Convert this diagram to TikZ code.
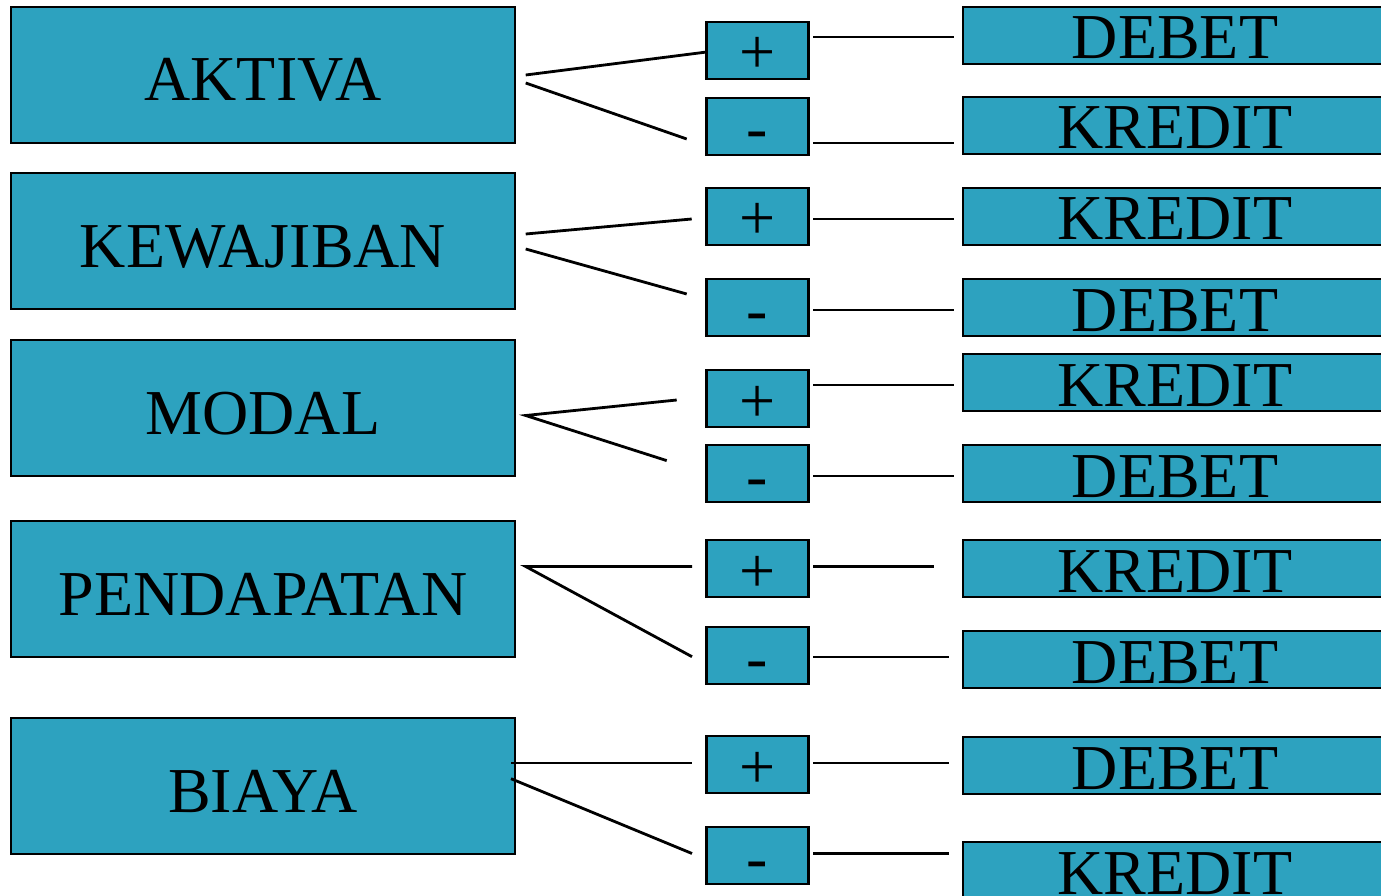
\documentclass[tikz,border=0pt]{standalone}
\usepackage{fontspec}
\setmainfont{Liberation Serif}
\definecolor{boxblue}{RGB}{45,162,191}
\tikzset{
  base/.style={draw=black, fill=boxblue, line width=2.8pt, inner sep=0pt, outer sep=0pt,
    anchor=north west, font=\fontsize{64}{64}\selectfont},
  lbox/.style={base, minimum width=504pt, text height=94pt, text depth=42pt},
  mbox/.style={base, minimum width=101.6pt, text height=52pt, text depth=5pt},
  rbox/.style={base, minimum width=424pt, text height=52pt, text depth=5pt},
  link/.style={line width=2.8pt, draw=black}
}
\begin{document}
\begin{tikzpicture}[x=1pt,y=-1pt]
\useasboundingbox (0,0) rectangle (1381,896);
% left boxes
\node[lbox] (aktiva) at (11,7) {AKTIVA};
\node[lbox] (kewajiban) at (11,173) {KEWAJIBAN};
\node[lbox] (modal) at (11,340) {MODAL};
\node[lbox] (pendapatan) at (11,521) {PENDAPATAN};
\node[lbox] (biaya) at (11,718) {BIAYA};
% middle boxes
\node[mbox] (ap) at (706.7,22) {+};
\node[mbox] (am) at (706.7,98) {-};
\node[mbox] (kp) at (706.7,188) {+};
\node[mbox] (km) at (706.7,279) {-};
\node[mbox] (mp) at (706.7,370) {+};
\node[mbox] (mm) at (706.7,445) {-};
\node[mbox] (pp) at (706.7,540) {+};
\node[mbox] (pm) at (706.7,627) {-};
\node[mbox] (bp) at (706.7,736) {+};
\node[mbox] (bm) at (706.7,827) {-};
% right boxes
\node[rbox] (r1) at (963,7) {DEBET};
\node[rbox] (r2) at (963,97) {KREDIT};
\node[rbox] (r3) at (963,188) {KREDIT};
\node[rbox] (r4) at (963,279) {DEBET};
\node[rbox] (r5) at (963,354) {KREDIT};
\node[rbox] (r6) at (963,445) {DEBET};
\node[rbox] (r7) at (963,540) {KREDIT};
\node[rbox] (r8) at (963,631) {DEBET};
\node[rbox] (r9) at (963,737) {DEBET};
\node[rbox] (r10) at (963,842) {KREDIT};
% connector end points
\coordinate (a1) at (525.7,75);   \coordinate (a2) at (706.7,52);
\coordinate (a3) at (525.7,83);   \coordinate (a4) at (686.7,139);
\coordinate (a5) at (813.3,37);   \coordinate (a6) at (954,37);
\coordinate (a7) at (813.3,143);  \coordinate (a8) at (954,143);
\coordinate (k1) at (525.7,234);  \coordinate (k2) at (691.7,219);
\coordinate (k3) at (525.7,249);  \coordinate (k4) at (686.7,294);
\coordinate (k5) at (813.3,219);  \coordinate (k6) at (954,219);
\coordinate (k7) at (813.3,310);  \coordinate (k8) at (954,310);
\coordinate (m1) at (525.7,415.5);\coordinate (m2) at (676.7,400);
\coordinate (m4) at (666.7,460.6);
\coordinate (m5) at (813.3,385);  \coordinate (m6) at (954,385);
\coordinate (m7) at (813.3,476);  \coordinate (m8) at (954,476);
\coordinate (p1) at (525.7,566.5);\coordinate (p2) at (692,566.5);
\coordinate (p4) at (692,656.7);
\coordinate (p5) at (813.3,566.5);\coordinate (p6) at (933.7,566.5);
\coordinate (p7) at (813.3,657); \coordinate (p8) at (949,657);
\coordinate (b1) at (511,763);    \coordinate (b2) at (692,763);
\coordinate (b3) at (511,778.7);  \coordinate (b4) at (692,853.5);
\coordinate (b5) at (813.3,763);  \coordinate (b6) at (949,763);
\coordinate (b7) at (813.3,853.5);\coordinate (b8) at (949,853.5);
% connectors
\draw[link] (a1) -- (a2);
\draw[link] (a3) -- (a4);
\draw[link] (a5) -- (a6);
\draw[link] (a7) -- (a8);
\draw[link] (k1) -- (k2);
\draw[link] (k3) -- (k4);
\draw[link] (k5) -- (k6);
\draw[link] (k7) -- (k8);
\draw[link] (m2) -- (m1) -- (m4);
\draw[link] (m5) -- (m6);
\draw[link] (m7) -- (m8);
\draw[link] (p2) -- (p1) -- (p4);
\draw[link] (p5) -- (p6);
\draw[link] (p7) -- (p8);
\draw[link] (b1) -- (b2);
\draw[link] (b3) -- (b4);
\draw[link] (b5) -- (b6);
\draw[link] (b7) -- (b8);
\end{tikzpicture}
\end{document}
